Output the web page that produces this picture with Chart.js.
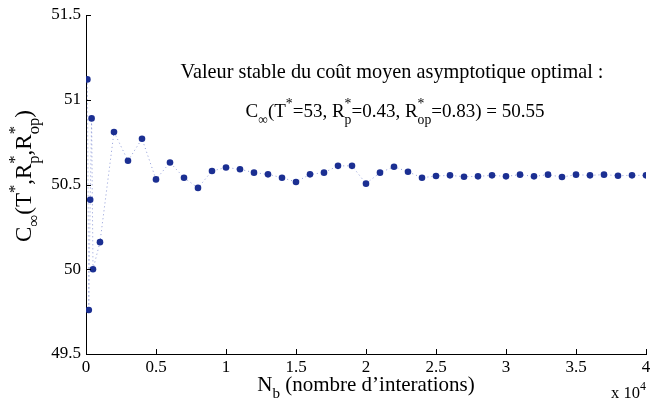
<!DOCTYPE html>
<html><head><meta charset="utf-8">
<script src="https://cdn.jsdelivr.net/npm/chart.js@4.4.1/dist/chart.umd.min.js"></script>
<style>html,body{margin:0;padding:0;background:#fff;}</style>
</head><body>
<canvas id="c" width="650" height="405"></canvas>
<script>
// ---- data ----
const iterations = [100, 200, 300, 400, 500, 1000, 2000, 3000, 4000, 5000, 6000, 7000, 8000, 9000, 10000,
  11000, 12000, 13000, 14000, 15000, 16000, 17000, 18000, 19000, 20000, 21000, 22000, 23000, 24000, 25000,
  26000, 27000, 28000, 29000, 30000, 31000, 32000, 33000, 34000, 35000, 36000, 37000, 38000, 39000, 40000];
const costValues = [51.12, 49.76, 50.41, 50.89, 50.00, 50.16, 50.81, 50.64, 50.77, 50.53, 50.63, 50.54, 50.48, 50.58, 50.60,
  50.59, 50.57, 50.56, 50.54, 50.515, 50.56, 50.57, 50.61, 50.61, 50.505, 50.57, 50.605, 50.575, 50.54, 50.55,
  50.554, 50.546, 50.548, 50.554, 50.548, 50.558, 50.548, 50.558, 50.544, 50.558, 50.554, 50.558, 50.552, 50.554, 50.554];
const xTickLabels = ['0', '0.5', '1', '1.5', '2', '2.5', '3', '3.5', '4'];
const yTickLabels = ['49.5', '50', '50.5', '51', '51.5'];
const annotationTitle = 'Valeur stable du coût moyen asymptotique optimal :';
const xExponentLabel = 'x 10';

const FONT = "'Liberation Serif', 'Times New Roman', serif";

function richWidth(ctx, parts, size) {
  let w = 0;
  for (const p of parts) {
    if (p[0] === 'n') { ctx.font = size + 'px ' + FONT; w += ctx.measureText(p[1]).width; }
    else {
      ctx.font = (size * 0.72) + 'px ' + FONT;
      if (p[0] === 'ss') w += Math.max(ctx.measureText(p[1]).width, ctx.measureText(p[2]).width);
      else w += ctx.measureText(p[1]).width;
    }
  }
  return w;
}
function drawRich(ctx, parts, x, y, size) {
  ctx.textBaseline = 'alphabetic';
  ctx.textAlign = 'left';
  let cx = x;
  const small = size * 0.72;
  for (const p of parts) {
    if (p[0] === 'n') {
      ctx.font = size + 'px ' + FONT;
      ctx.fillText(p[1], cx, y);
      cx += ctx.measureText(p[1]).width;
    } else if (p[0] === 'sub') {
      ctx.font = small + 'px ' + FONT;
      ctx.fillText(p[1], cx, y + size * 0.35);
      cx += ctx.measureText(p[1]).width;
    } else if (p[0] === 'sup') {
      ctx.font = small + 'px ' + FONT;
      ctx.fillText(p[1], cx, y - size * 0.5);
      cx += ctx.measureText(p[1]).width;
    } else if (p[0] === 'ss') {
      ctx.font = small + 'px ' + FONT;
      ctx.fillText(p[1], cx, y - size * 0.5);
      ctx.fillText(p[2], cx, y + size * 0.35);
      cx += Math.max(ctx.measureText(p[1]).width, ctx.measureText(p[2]).width);
    }
  }
}

const textPlugin = {
  id: 'texts',
  afterDraw(chart) {
    const ctx = chart.ctx;
    const xs = chart.scales.x, ys = chart.scales.y;
    ctx.save();
    ctx.fillStyle = '#000';
    ctx.strokeStyle = '#000';
    ctx.lineWidth = 1;
    xs.ticks.forEach((t, i) => {
      const px = Math.round(xs.getPixelForTick(i)) + 0.5;
      ctx.beginPath(); ctx.moveTo(px, ys.bottom); ctx.lineTo(px, ys.bottom - 5); ctx.stroke();
    });
    ys.ticks.forEach((t, i) => {
      const py = Math.round(ys.getPixelForTick(i)) + 0.5;
      ctx.beginPath(); ctx.moveTo(xs.left, py); ctx.lineTo(xs.left + 5, py); ctx.stroke();
    });
    ctx.font = '20.3px ' + FONT;
    ctx.textAlign = 'center'; ctx.textBaseline = 'alphabetic';
    ctx.fillText(annotationTitle, 392, 78);
    const line2 = [['n', 'C'], ['sub', '∞'], ['n', '(T'], ['sup', '*'], ['n', '=53, R'], ['ss', '*', 'p'],
      ['n', '=0.43, R'], ['ss', '*', 'op'], ['n', '=0.83) = 50.55']];
    const w2 = richWidth(ctx, line2, 19);
    drawRich(ctx, line2, 395 - w2 / 2, 117, 19);
    const xt = [['n', 'N'], ['sub', 'b'], ['n', ' (nombre d\u2019interations)']];
    const wx = richWidth(ctx, xt, 21);
    drawRich(ctx, xt, (xs.left + xs.right) / 2 - wx / 2, 391, 21);
    const ex = [['n', xExponentLabel], ['sup', '4']];
    drawRich(ctx, ex, 611, 398, 16.5);
    const yt = [['n', 'C'], ['sub', '∞'], ['n', '(T'], ['sup', '*'], ['n', ',R'], ['ss', '*', 'p'], ['n', ',R'], ['ss', '*', 'op'], ['n', ')']];
    const wy = richWidth(ctx, yt, 23);
    ctx.translate(31, 176);
    ctx.rotate(-Math.PI / 2);
    drawRich(ctx, yt, -wy / 2, 0, 23);
    ctx.restore();
  }
};

new Chart(document.getElementById('c'), {
  type: 'scatter',
  data: {
    datasets: [{
      data: iterations.map((n, i) => ({ x: n, y: costValues[i] })),
      showLine: true,
      borderColor: 'rgba(70,90,190,0.6)',
      borderWidth: 1,
      borderDash: [1, 3],
      pointRadius: 3.3,
      pointBackgroundColor: '#1b2f92',
      pointBorderColor: '#1b2f92',
      pointBorderWidth: 0
    }]
  },
  options: {
    responsive: false,
    animation: false,
    devicePixelRatio: 1,
    layout: { padding: { top: 15, right: 1, bottom: 0, left: 0 } },
    plugins: { legend: { display: false }, tooltip: { enabled: false } },
    scales: {
      x: {
        type: 'linear', min: 0, max: 40000,
        grid: { display: false, drawTicks: false },
        border: { display: true, color: '#000', width: 1 },
        ticks: {
          stepSize: 5000, padding: 3, color: '#000', maxRotation: 0, autoSkip: false,
          font: { family: FONT, size: 17 },
          callback: (v, i) => xTickLabels[i]
        },
        afterFit: (s) => { s.height = 51; s.paddingLeft = 0; s.paddingRight = 0; }
      },
      y: {
        type: 'linear', min: 49.5, max: 51.5,
        grid: { display: false, drawTicks: false },
        border: { display: true, color: '#000', width: 1 },
        ticks: {
          stepSize: 0.5, padding: 5, color: '#000',
          font: { family: FONT, size: 17 },
          callback: (v, i) => yTickLabels[i]
        },
        afterFit: (s) => { s.width = 86; s.paddingTop = 0; s.paddingBottom = 0; }
      }
    }
  },
  plugins: [textPlugin]
});
</script>
</body></html>
